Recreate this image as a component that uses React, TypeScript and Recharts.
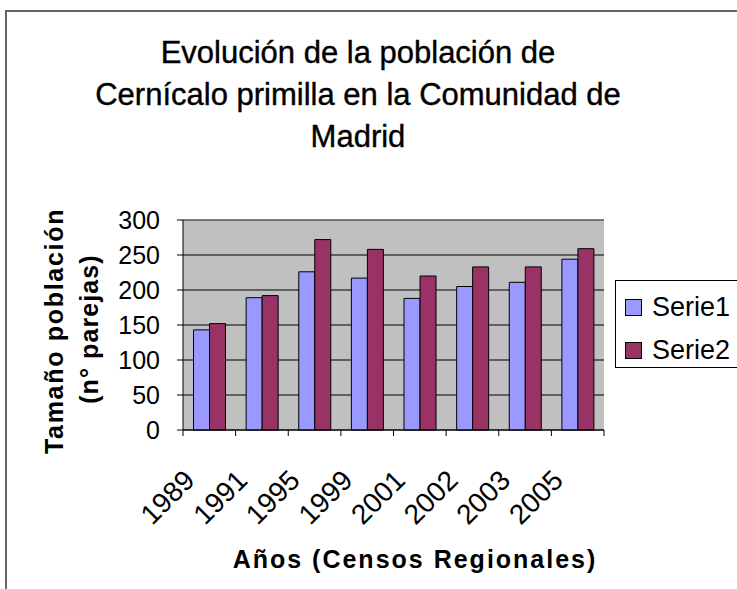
import * as React from "react";
import { BarChart, Bar, XAxis, YAxis, CartesianGrid, ReferenceLine } from "recharts";

const years = ["1989", "1991", "1995", "1999", "2001", "2002", "2003", "2005"];
const serie1 = [143, 189, 226, 217, 188, 205, 211, 244];
const serie2 = [152, 192, 272, 258, 220, 233, 233, 259];
const yTicks = [0, 50, 100, 150, 200, 250, 300];
const titleLines = ["Evolución de la población de", "Cernícalo primilla en la Comunidad de", "Madrid"];
const seriesNames = ["Serie1", "Serie2"];
const seriesColors = ["#9999FF", "#993366"];

const W = 737;
const H = 589;
const PLOT_W = 421;
const FONT = '"Liberation Sans", Arial, sans-serif';

const data = years.map((year, i) => ({ year, serie1: serie1[i], serie2: serie2[i] }));

function YearTick({ x, y, payload, index }: any) {
  const half = PLOT_W / years.length / 2;
  const ax = x - 13;
  const ay = y + 52;
  return (
    <g>
      <line x1={x - half} x2={x - half} y1={y} y2={y + 6} stroke="#000" />
      {index === years.length - 1 && <line x1={x + half} x2={x + half} y1={y} y2={y + 6} stroke="#000" />}
      <text x={ax} y={ay} transform={`rotate(-45 ${ax} ${ay})`} textAnchor="end" fontSize={28} fontFamily={FONT} fill="#000">
        {payload.value}
      </text>
    </g>
  );
}

function LegendBox() {
  return (
    <div style={{ position: "absolute", left: 615, top: 280, width: 160, height: 86, border: "1px solid #000", background: "#fff" }}>
      {seriesNames.map((name, i) => (
        <div key={name} style={{ position: "absolute", left: 9, top: 16 + i * 43, display: "flex", alignItems: "center" }}>
          <span style={{ width: 15, height: 15, background: seriesColors[i], border: "1px solid #000", display: "inline-block" }} />
          <span style={{ marginLeft: 10, fontSize: 27, fontFamily: FONT, lineHeight: "20px" }}>{name}</span>
        </div>
      ))}
    </div>
  );
}

export default function App() {
  return (
    <div style={{ position: "fixed", left: 0, top: 0, width: W, height: H, overflow: "hidden", background: "#fff" }}>
      <div style={{ position: "absolute", left: 5, top: 10, width: 800, height: 700, borderLeft: "2px solid #666", borderTop: "2px solid #666" }} />
      <BarChart
        width={W}
        height={H}
        data={data}
        margin={{ top: 220, right: 133, left: 123, bottom: 129 }}
        barGap={0}
        barCategoryGap="20%"
        style={{ position: "absolute", left: 0, top: 0 }}
      >
        <CartesianGrid vertical={false} stroke="#000" fill="#C0C0C0" fillOpacity={1} />
        <XAxis dataKey="year" height={30} tickSize={0} tickMargin={0} tickLine={false} axisLine={{ stroke: "#000" }} tick={<YearTick />} interval={0} />
        <YAxis
          domain={[0, 300]}
          ticks={yTicks}
          width={60}
          tickSize={6}
          tickMargin={17}
          tickLine={{ stroke: "#000" }}
          axisLine={{ stroke: "#000" }}
          tick={{ fontSize: 25, fontFamily: FONT, fill: "#000" }}
        />
        <YAxis yAxisId="edge" orientation="right" width={0} tick={false} tickLine={false} domain={[0, 300]} axisLine={{ stroke: "#808080" }} />
        <ReferenceLine y={300} stroke="#808080" />
        <Bar dataKey="serie1" name={seriesNames[0]} fill={seriesColors[0]} stroke="#000" strokeWidth={1} isAnimationActive={false} />
        <Bar dataKey="serie2" name={seriesNames[1]} fill={seriesColors[1]} stroke="#000" strokeWidth={1} isAnimationActive={false} />
      </BarChart>
      <svg width={W} height={H} style={{ position: "absolute", left: 0, top: 0, pointerEvents: "none" }}>
        {titleLines.map((line, i) => (
          <text key={i} x={358} y={63 + i * 42} textAnchor="middle" fontSize={31} fontFamily={FONT} fill="#000" stroke="#000" strokeWidth={0.4}>
            {line}
          </text>
        ))}
        <text x={54} y={331} transform="rotate(-90 54 331)" textAnchor="middle" dominantBaseline="central" fontSize={25} fontWeight="bold" letterSpacing={1.7} fontFamily={FONT}>
          Tamaño población
        </text>
        <text x={89} y={329} transform="rotate(-90 89 329)" textAnchor="middle" dominantBaseline="central" fontSize={25} fontWeight="bold" letterSpacing={1.1} fontFamily={FONT}>
          (n° parejas)
        </text>
        <text x={415} y={568} textAnchor="middle" fontSize={25} fontWeight="bold" letterSpacing={2} fontFamily={FONT}>
          Años (Censos Regionales)
        </text>
      </svg>
      <LegendBox />
    </div>
  );
}
